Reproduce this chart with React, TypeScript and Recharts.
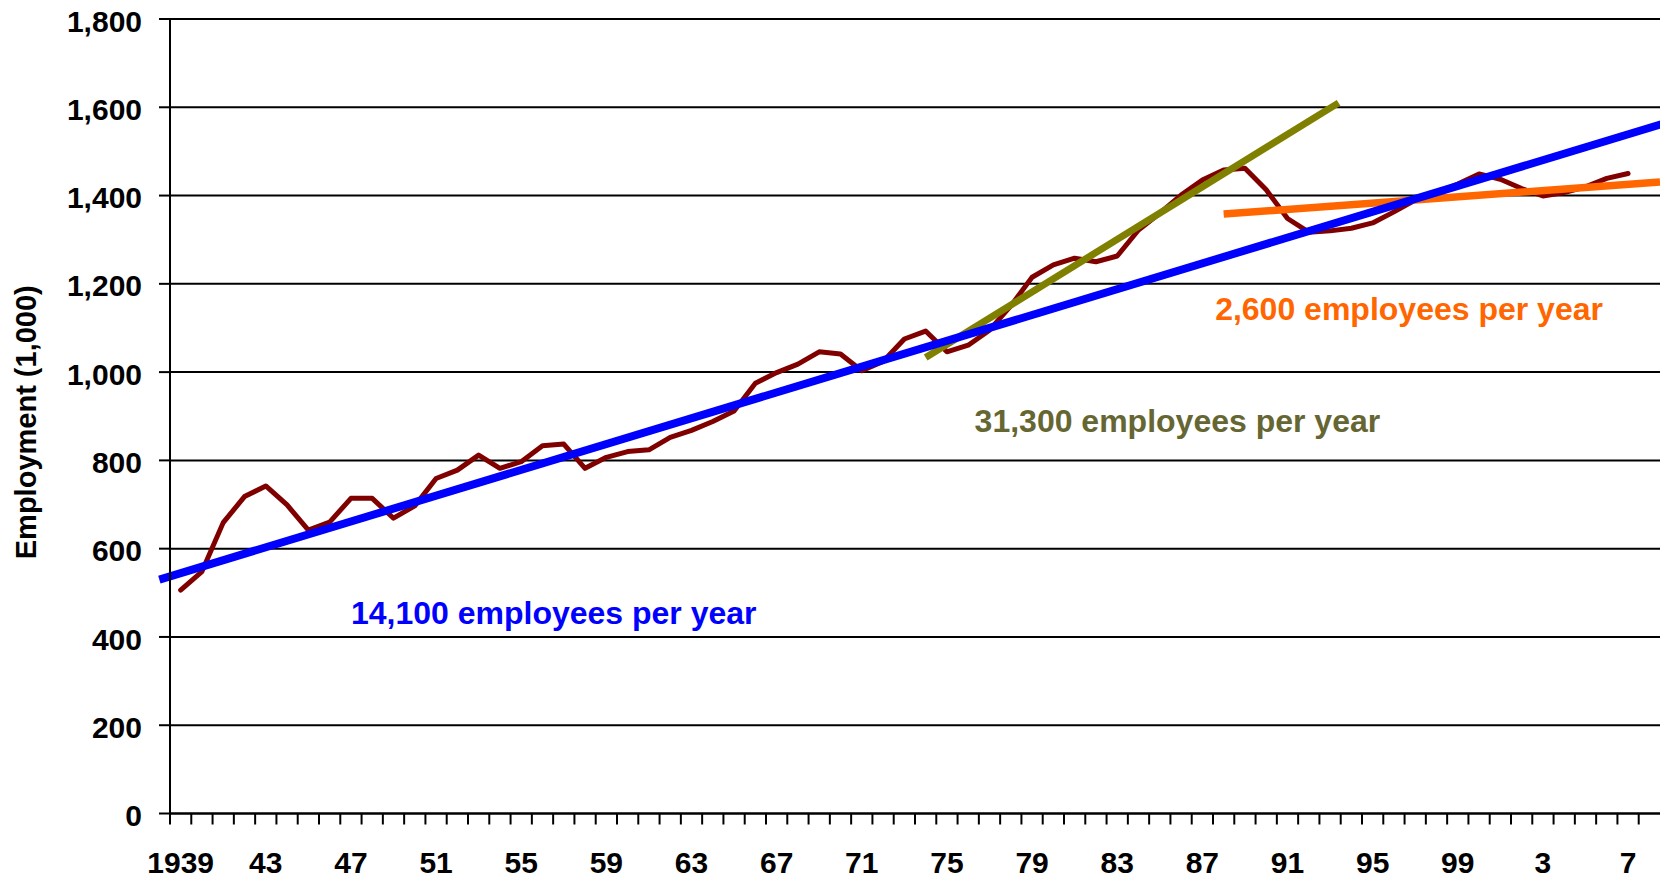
import * as React from "react";
import {
  LineChart,
  Line,
  XAxis,
  YAxis,
  CartesianGrid,
  ReferenceLine,
  ReferenceDot,
} from "recharts";

// years on the category axis
const years = [
  1939, 1940, 1941, 1942, 1943, 1944, 1945, 1946, 1947, 1948, 1949, 1950,
  1951, 1952, 1953, 1954, 1955, 1956, 1957, 1958, 1959, 1960, 1961, 1962,
  1963, 1964, 1965, 1966, 1967, 1968, 1969, 1970, 1971, 1972, 1973, 1974,
  1975, 1976, 1977, 1978, 1979, 1980, 1981, 1982, 1983, 1984, 1985, 1986,
  1987, 1988, 1989, 1990, 1991, 1992, 1993, 1994, 1995, 1996, 1997, 1998,
  1999, 2000, 2001, 2002, 2003, 2004, 2005, 2006, 2007,
];

// employment, thousands
const employment = [
  506, 548, 659, 718, 742, 699, 642, 660, 714, 714, 669, 697,
  759, 778, 812, 782, 797, 833, 837, 782, 807, 820, 824, 852,
  868, 888, 912, 975, 999, 1018, 1046, 1041, 1003, 1024, 1075, 1093,
  1046, 1061, 1095, 1150, 1215, 1243, 1258, 1250, 1263, 1322, 1360, 1401,
  1435, 1458, 1462, 1413, 1348, 1317, 1320, 1326, 1338, 1363, 1390, 1407,
  1426, 1449, 1437, 1416, 1399, 1407, 1420, 1439, 1450,
];

// fitted trend segments (year, value)
const blueTrend = [
  { x: 1938, y: 530 },
  { x: 2009, y: 1568 },
];
const oliveTrend = [
  { x: 1974, y: 1033 },
  { x: 1993.4, y: 1610 },
];
const orangeTrend = [
  { x: 1988, y: 1358 },
  { x: 2008.5, y: 1431 },
];

const labelYears = [1939, 1943, 1947, 1951, 1955, 1959, 1963, 1967, 1971, 1975, 1979, 1983, 1987, 1991, 1995, 1999, 2003, 2007];
const labelTexts = ["1939", "43", "47", "51", "55", "59", "63", "67", "71", "75", "79", "83", "87", "91", "95", "99", "3", "7"];

const yTicks = [0, 200, 400, 600, 800, 1000, 1200, 1400, 1600, 1800];

const notes = [
  { text: "14,100 employees per year", x: 1947, y: 455, color: "#0000FF" },
  { text: "31,300 employees per year", x: 1976.3, y: 890, color: "#666633" },
  { text: "2,600 employees per year", x: 1987.6, y: 1144, color: "#FF6600" },
];

const xDomain: [number, number] = [1938.5, 2008.5];
const boundaries = years.map((y) => y - 0.5).concat([years[years.length - 1] + 0.5]);

const data = years.map((year, i) => ({ year, employment: employment[i] }));

const FONT = '"Liberation Sans", Arial, sans-serif';
const black = { stroke: "#000", strokeWidth: 2 };

export default function App() {
  return (
    <div style={{ position: "absolute", left: 0, top: 0, width: 1660, height: 879 }}>
      <LineChart
        width={1660}
        height={879}
        data={data}
        margin={{ top: 19, right: 0, bottom: 0, left: 0 }}
        style={{ fontFamily: FONT }}
      >
        <CartesianGrid vertical={false} stroke="#000" strokeWidth={2} xAxisId="a-marks" />
        <XAxis
          xAxisId="a-marks"
          dataKey="year"
          type="number"
          domain={xDomain}
          allowDataOverflow
          ticks={boundaries}
          interval={0}
          tickFormatter={() => ""}
          tickSize={11}
          height={12}
          axisLine={black}
          tickLine={black}
        />
        <XAxis
          xAxisId="b-labels"
          dataKey="year"
          type="number"
          domain={xDomain}
          allowDataOverflow
          ticks={labelYears}
          interval={0}
          tickFormatter={(v: number) => labelTexts[labelYears.indexOf(v)]}
          axisLine={false}
          tickLine={false}
          tickSize={0}
          tickMargin={26}
          height={53.5}
          tick={{ fill: "#000", fontSize: 30, fontWeight: "bold" }}
        />
        <YAxis
          domain={[0, 1800]}
          ticks={yTicks}
          interval={0}
          width={170}
          tickSize={11}
          tickMargin={17}
          axisLine={black}
          tickLine={black}
          tickFormatter={(v: number) => v.toLocaleString("en-US")}
          tick={{ fill: "#000", fontSize: 30, fontWeight: "bold", dy: 2 }}
          label={{
            value: "Employment (1,000)",
            angle: -90,
            position: "insideLeft",
            offset: 26,
            dy: 6,
            fill: "#000",
            fontSize: 29,
            fontWeight: "bold",
            style: { textAnchor: "middle" },
          }}
        />
        <Line
          xAxisId="a-marks"
          dataKey="employment"
          stroke="#800000"
          strokeWidth={5}
          strokeLinecap="round"
          strokeLinejoin="round"
          dot={false}
          isAnimationActive={false}
        />
        <ReferenceLine xAxisId="a-marks" segment={oliveTrend} stroke="#808000" strokeWidth={7} ifOverflow="visible" />
        <ReferenceLine xAxisId="a-marks" segment={orangeTrend} stroke="#FF6600" strokeWidth={7.5} ifOverflow="visible" />
        <ReferenceLine xAxisId="a-marks" segment={blueTrend} stroke="#0000FF" strokeWidth={8} ifOverflow="visible" />
        {notes.map((n) => (
          <ReferenceDot
            key={n.text}
            xAxisId="a-marks"
            x={n.x}
            y={n.y}
            r={0}
            stroke="none"
            fill="none"
            label={{
              value: n.text,
              position: "right",
              offset: 0,
              fill: n.color,
              fontSize: 32,
              fontWeight: "bold",
            }}
          />
        ))}
      </LineChart>
    </div>
  );
}
